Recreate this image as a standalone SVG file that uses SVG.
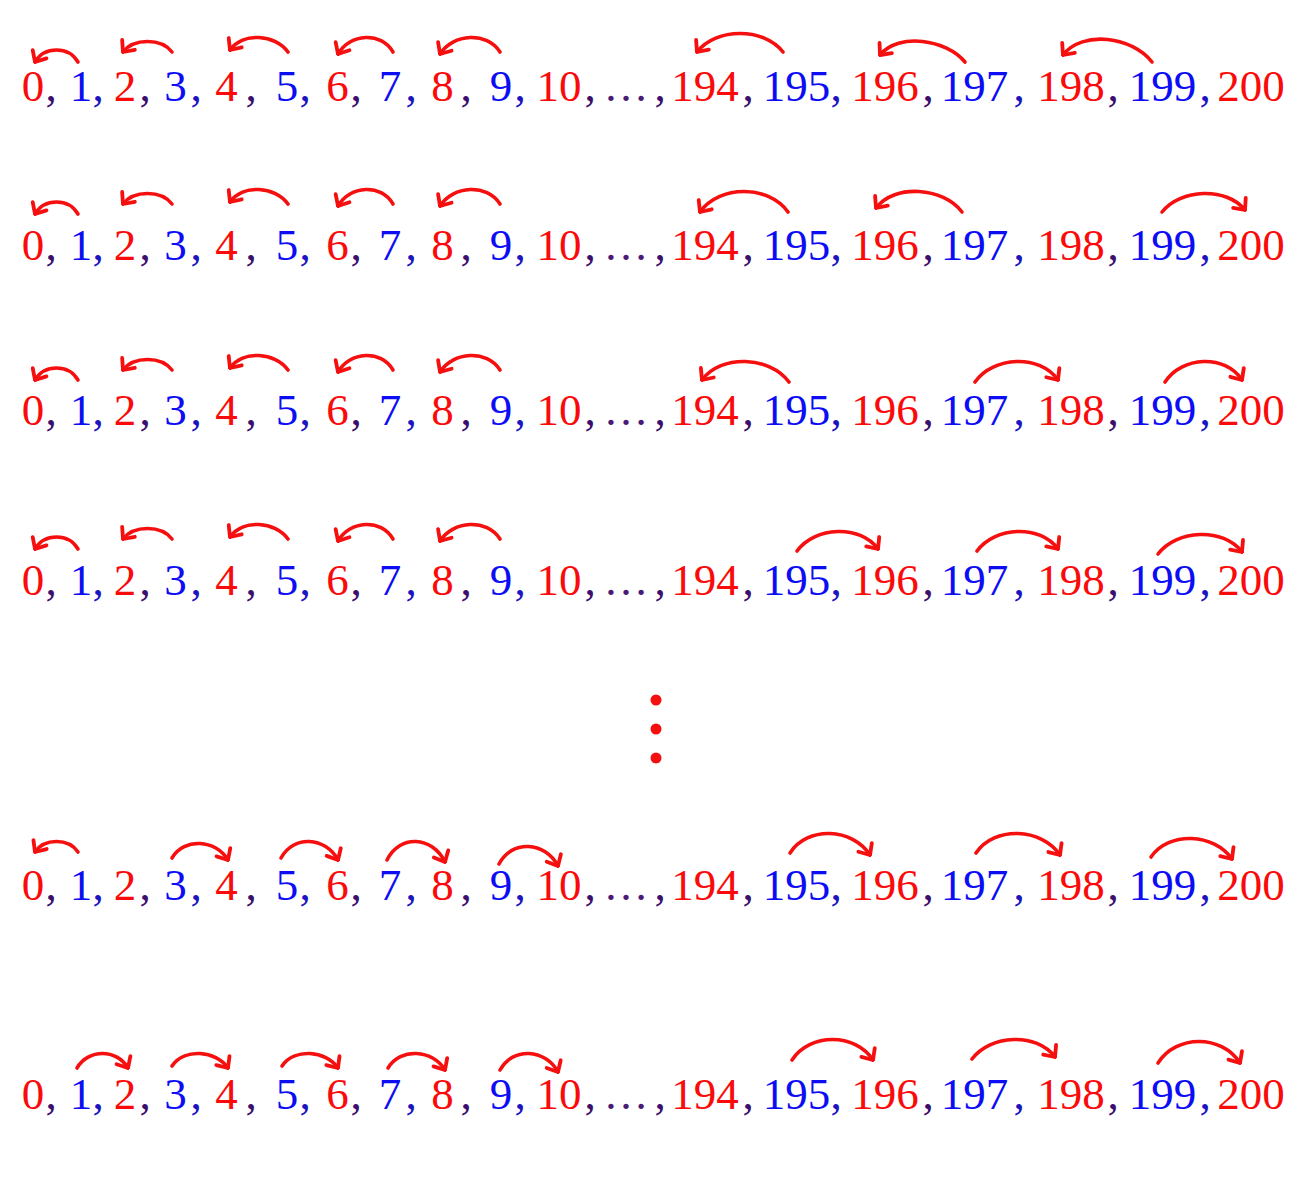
<svg xmlns="http://www.w3.org/2000/svg" width="1312" height="1199" viewBox="0 0 1312 1199">
<style>
text { font-family: "Liberation Serif", "Times New Roman", serif; font-size: 45px; text-anchor: middle; }
.r { fill: #fa0a0a; }
.b { fill: #0c0cf5; }
.cr { fill: #3c0f6e; }
.cb { fill: #1c14c0; }
.el { fill: #4a1a78; }
.arc { fill: none; stroke: #f50f0f; stroke-width: 3.6; stroke-linecap: round; marker-end: url(#ah); }
</style>
<defs>
<marker id="ah" viewBox="-13 -11 15 22" refX="0" refY="0" markerWidth="15" markerHeight="22" markerUnits="userSpaceOnUse" orient="auto">
<path d="M-9,-8 L0,0 L-9,8" fill="none" stroke="#f50f0f" stroke-width="3.8" stroke-linecap="round" stroke-linejoin="round"/>
</marker>
</defs>
<rect width="1312" height="1199" fill="#ffffff"/>

<g id="row1"><text y="101"><tspan class="r" x="33">0</tspan><tspan class="cr" x="51">,</tspan><tspan class="b" x="81">1</tspan><tspan class="cb" x="98">,</tspan><tspan class="r" x="125">2</tspan><tspan class="cr" x="145">,</tspan><tspan class="b" x="175.5">3</tspan><tspan class="cb" x="196">,</tspan><tspan class="r" x="226.5">4</tspan><tspan class="cr" x="251">,</tspan><tspan class="b" x="287">5</tspan><tspan class="cb" x="305">,</tspan><tspan class="r" x="337.5">6</tspan><tspan class="cr" x="356">,</tspan><tspan class="b" x="390">7</tspan><tspan class="cb" x="411">,</tspan><tspan class="r" x="442.5">8</tspan><tspan class="cr" x="466">,</tspan><tspan class="b" x="501">9</tspan><tspan class="cb" x="520">,</tspan><tspan class="r" x="559">10</tspan><tspan class="cr" x="590">,</tspan><tspan class="el" x="626">…</tspan><tspan class="cr" x="660">,</tspan><tspan class="r" x="705">194</tspan><tspan class="cr" x="748">,</tspan><tspan class="b" x="796.5">195</tspan><tspan class="cb" x="836">,</tspan><tspan class="r" x="885">196</tspan><tspan class="cr" x="928">,</tspan><tspan class="b" x="974.5">197</tspan><tspan class="cb" x="1019">,</tspan><tspan class="r" x="1071">198</tspan><tspan class="cr" x="1113">,</tspan><tspan class="b" x="1162.5">199</tspan><tspan class="cb" x="1205">,</tspan><tspan class="r" x="1251">200</tspan></text></g>

<g id="row2"><text y="260"><tspan class="r" x="33">0</tspan><tspan class="cr" x="51">,</tspan><tspan class="b" x="81">1</tspan><tspan class="cb" x="98">,</tspan><tspan class="r" x="125">2</tspan><tspan class="cr" x="145">,</tspan><tspan class="b" x="175.5">3</tspan><tspan class="cb" x="196">,</tspan><tspan class="r" x="226.5">4</tspan><tspan class="cr" x="251">,</tspan><tspan class="b" x="287">5</tspan><tspan class="cb" x="305">,</tspan><tspan class="r" x="337.5">6</tspan><tspan class="cr" x="356">,</tspan><tspan class="b" x="390">7</tspan><tspan class="cb" x="411">,</tspan><tspan class="r" x="442.5">8</tspan><tspan class="cr" x="466">,</tspan><tspan class="b" x="501">9</tspan><tspan class="cb" x="520">,</tspan><tspan class="r" x="559">10</tspan><tspan class="cr" x="590">,</tspan><tspan class="el" x="626">…</tspan><tspan class="cr" x="660">,</tspan><tspan class="r" x="705">194</tspan><tspan class="cr" x="748">,</tspan><tspan class="b" x="796.5">195</tspan><tspan class="cb" x="836">,</tspan><tspan class="r" x="885">196</tspan><tspan class="cr" x="928">,</tspan><tspan class="b" x="974.5">197</tspan><tspan class="cb" x="1019">,</tspan><tspan class="r" x="1071">198</tspan><tspan class="cr" x="1113">,</tspan><tspan class="b" x="1162.5">199</tspan><tspan class="cb" x="1205">,</tspan><tspan class="r" x="1251">200</tspan></text></g>

<g id="row3"><text y="425"><tspan class="r" x="33">0</tspan><tspan class="cr" x="51">,</tspan><tspan class="b" x="81">1</tspan><tspan class="cb" x="98">,</tspan><tspan class="r" x="125">2</tspan><tspan class="cr" x="145">,</tspan><tspan class="b" x="175.5">3</tspan><tspan class="cb" x="196">,</tspan><tspan class="r" x="226.5">4</tspan><tspan class="cr" x="251">,</tspan><tspan class="b" x="287">5</tspan><tspan class="cb" x="305">,</tspan><tspan class="r" x="337.5">6</tspan><tspan class="cr" x="356">,</tspan><tspan class="b" x="390">7</tspan><tspan class="cb" x="411">,</tspan><tspan class="r" x="442.5">8</tspan><tspan class="cr" x="466">,</tspan><tspan class="b" x="501">9</tspan><tspan class="cb" x="520">,</tspan><tspan class="r" x="559">10</tspan><tspan class="cr" x="590">,</tspan><tspan class="el" x="626">…</tspan><tspan class="cr" x="660">,</tspan><tspan class="r" x="705">194</tspan><tspan class="cr" x="748">,</tspan><tspan class="b" x="796.5">195</tspan><tspan class="cb" x="836">,</tspan><tspan class="r" x="885">196</tspan><tspan class="cr" x="928">,</tspan><tspan class="b" x="974.5">197</tspan><tspan class="cb" x="1019">,</tspan><tspan class="r" x="1071">198</tspan><tspan class="cr" x="1113">,</tspan><tspan class="b" x="1162.5">199</tspan><tspan class="cb" x="1205">,</tspan><tspan class="r" x="1251">200</tspan></text></g>

<g id="row4"><text y="595"><tspan class="r" x="33">0</tspan><tspan class="cr" x="51">,</tspan><tspan class="b" x="81">1</tspan><tspan class="cb" x="98">,</tspan><tspan class="r" x="125">2</tspan><tspan class="cr" x="145">,</tspan><tspan class="b" x="175.5">3</tspan><tspan class="cb" x="196">,</tspan><tspan class="r" x="226.5">4</tspan><tspan class="cr" x="251">,</tspan><tspan class="b" x="287">5</tspan><tspan class="cb" x="305">,</tspan><tspan class="r" x="337.5">6</tspan><tspan class="cr" x="356">,</tspan><tspan class="b" x="390">7</tspan><tspan class="cb" x="411">,</tspan><tspan class="r" x="442.5">8</tspan><tspan class="cr" x="466">,</tspan><tspan class="b" x="501">9</tspan><tspan class="cb" x="520">,</tspan><tspan class="r" x="559">10</tspan><tspan class="cr" x="590">,</tspan><tspan class="el" x="626">…</tspan><tspan class="cr" x="660">,</tspan><tspan class="r" x="705">194</tspan><tspan class="cr" x="748">,</tspan><tspan class="b" x="796.5">195</tspan><tspan class="cb" x="836">,</tspan><tspan class="r" x="885">196</tspan><tspan class="cr" x="928">,</tspan><tspan class="b" x="974.5">197</tspan><tspan class="cb" x="1019">,</tspan><tspan class="r" x="1071">198</tspan><tspan class="cr" x="1113">,</tspan><tspan class="b" x="1162.5">199</tspan><tspan class="cb" x="1205">,</tspan><tspan class="r" x="1251">200</tspan></text></g>

<g id="vdots" fill="#f50f0f"><circle cx="656" cy="700" r="5.5"/><circle cx="656" cy="729" r="5.5"/><circle cx="656" cy="758" r="5.5"/></g>

<g id="row5"><text y="900"><tspan class="r" x="33">0</tspan><tspan class="cr" x="51">,</tspan><tspan class="b" x="81">1</tspan><tspan class="cb" x="98">,</tspan><tspan class="r" x="125">2</tspan><tspan class="cr" x="145">,</tspan><tspan class="b" x="175.5">3</tspan><tspan class="cb" x="196">,</tspan><tspan class="r" x="226.5">4</tspan><tspan class="cr" x="251">,</tspan><tspan class="b" x="287">5</tspan><tspan class="cb" x="305">,</tspan><tspan class="r" x="337.5">6</tspan><tspan class="cr" x="356">,</tspan><tspan class="b" x="390">7</tspan><tspan class="cb" x="411">,</tspan><tspan class="r" x="442.5">8</tspan><tspan class="cr" x="466">,</tspan><tspan class="b" x="501">9</tspan><tspan class="cb" x="520">,</tspan><tspan class="r" x="559">10</tspan><tspan class="cr" x="590">,</tspan><tspan class="el" x="626">…</tspan><tspan class="cr" x="660">,</tspan><tspan class="r" x="705">194</tspan><tspan class="cr" x="748">,</tspan><tspan class="b" x="796.5">195</tspan><tspan class="cb" x="836">,</tspan><tspan class="r" x="885">196</tspan><tspan class="cr" x="928">,</tspan><tspan class="b" x="974.5">197</tspan><tspan class="cb" x="1019">,</tspan><tspan class="r" x="1071">198</tspan><tspan class="cr" x="1113">,</tspan><tspan class="b" x="1162.5">199</tspan><tspan class="cb" x="1205">,</tspan><tspan class="r" x="1251">200</tspan></text></g>

<g id="row6"><text y="1109"><tspan class="r" x="33">0</tspan><tspan class="cr" x="51">,</tspan><tspan class="b" x="81">1</tspan><tspan class="cb" x="98">,</tspan><tspan class="r" x="125">2</tspan><tspan class="cr" x="145">,</tspan><tspan class="b" x="175.5">3</tspan><tspan class="cb" x="196">,</tspan><tspan class="r" x="226.5">4</tspan><tspan class="cr" x="251">,</tspan><tspan class="b" x="287">5</tspan><tspan class="cb" x="305">,</tspan><tspan class="r" x="337.5">6</tspan><tspan class="cr" x="356">,</tspan><tspan class="b" x="390">7</tspan><tspan class="cb" x="411">,</tspan><tspan class="r" x="442.5">8</tspan><tspan class="cr" x="466">,</tspan><tspan class="b" x="501">9</tspan><tspan class="cb" x="520">,</tspan><tspan class="r" x="559">10</tspan><tspan class="cr" x="590">,</tspan><tspan class="el" x="626">…</tspan><tspan class="cr" x="660">,</tspan><tspan class="r" x="705">194</tspan><tspan class="cr" x="748">,</tspan><tspan class="b" x="796.5">195</tspan><tspan class="cb" x="836">,</tspan><tspan class="r" x="885">196</tspan><tspan class="cr" x="928">,</tspan><tspan class="b" x="974.5">197</tspan><tspan class="cb" x="1019">,</tspan><tspan class="r" x="1071">198</tspan><tspan class="cr" x="1113">,</tspan><tspan class="b" x="1162.5">199</tspan><tspan class="cb" x="1205">,</tspan><tspan class="r" x="1251">200</tspan></text></g>

<g id="connectors">
<g id="left-back-1">
<path class="arc" d="M78,62 C68.5,46 44.5,46 35,62"/>
<path class="arc" d="M172,52 C161.2,38 133.8,38 123,52"/>
<path class="arc" d="M288,52 C275.2,34 242.8,32 230,50"/>
<path class="arc" d="M393,52 C380.9,31.3 350.1,33.3 338,54"/>
<path class="arc" d="M500,52 C486.8,31.3 453.2,33.3 440,54"/>
</g>
<path class="arc" d="M783,52 C764.1,27.3 715.9,27.3 697,52"/>
<path class="arc" d="M965,62 C946.3,39.3 898.7,32.3 880,55"/>
<path class="arc" d="M1152,62 C1132.4,36.7 1082.6,29.7 1063,55"/>

<g transform="translate(0,152)">
<path class="arc" d="M78,62 C68.5,46 44.5,46 35,62"/>
<path class="arc" d="M172,52 C161.2,38 133.8,38 123,52"/>
<path class="arc" d="M288,52 C275.2,34 242.8,32 230,50"/>
<path class="arc" d="M393,52 C380.9,31.3 350.1,33.3 338,54"/>
<path class="arc" d="M500,52 C486.8,31.3 453.2,33.3 440,54"/>
</g>
<path class="arc" d="M788,212 C768.6,184.7 719.4,184.7 700,212"/>
<path class="arc" d="M962,212 C943.1,187.3 894.9,183.3 876,208"/>
<path class="arc" d="M1162,212 C1180.3,188.7 1226.7,186.7 1245,210"/>

<g transform="translate(0,318)">
<path class="arc" d="M78,62 C68.5,46 44.5,46 35,62"/>
<path class="arc" d="M172,52 C161.2,38 133.8,38 123,52"/>
<path class="arc" d="M288,52 C275.2,34 242.8,32 230,50"/>
<path class="arc" d="M393,52 C380.9,31.3 350.1,33.3 338,54"/>
<path class="arc" d="M500,52 C486.8,31.3 453.2,33.3 440,54"/>
</g>
<path class="arc" d="M789,382 C769.9,356 721.1,354 702,380"/>
<path class="arc" d="M975,382 C993.3,356 1039.7,354 1058,380"/>
<path class="arc" d="M1165,382 C1181.9,356 1225.1,354 1242,380"/>

<g transform="translate(0,487)">
<path class="arc" d="M78,62 C68.5,46 44.5,46 35,62"/>
<path class="arc" d="M172,52 C161.2,38 133.8,38 123,52"/>
<path class="arc" d="M288,52 C275.2,34 242.8,32 230,50"/>
<path class="arc" d="M393,52 C380.9,31.3 350.1,33.3 338,54"/>
<path class="arc" d="M500,52 C486.8,31.3 453.2,33.3 440,54"/>
</g>
<path class="arc" d="M797,551 C814.8,526.3 860.2,524.3 878,549"/>
<path class="arc" d="M977,551 C994.8,526.3 1040.2,524.3 1058,549"/>
<path class="arc" d="M1158,554 C1176.5,529.3 1223.5,527.3 1242,552"/>

<path class="arc" d="M78,852 C68.5,838 44.5,838 35,852"/>
<path class="arc" d="M172,858 C184.3,837.3 215.7,839.3 228,860"/>
<path class="arc" d="M281,858 C293.5,834.7 325.5,836.7 338,860"/>
<path class="arc" d="M387,860 C399.8,834 432.2,836 445,862"/>
<path class="arc" d="M499,864 C512,839.3 545,841.3 558,866"/>
<path class="arc" d="M790,853 C807.6,825.7 852.4,827.7 870,855"/>
<path class="arc" d="M976,853 C994.5,825.7 1041.5,827.7 1060,855"/>
<path class="arc" d="M1151,857 C1168.8,831 1214.2,833 1232,859"/>

<path class="arc" d="M77,1068 C88.2,1048.7 116.8,1048.7 128,1068"/>
<path class="arc" d="M172,1066 C184.3,1048 215.7,1050 228,1068"/>
<path class="arc" d="M282,1066 C294.3,1048 325.7,1050 338,1068"/>
<path class="arc" d="M388,1068 C400.5,1047.3 432.5,1049.3 445,1070"/>
<path class="arc" d="M500,1070 C512.8,1046.7 545.2,1048.7 558,1072"/>
<path class="arc" d="M792,1060 C809.8,1032.7 855.2,1032.7 873,1060"/>
<path class="arc" d="M972,1059 C990.3,1034.3 1036.7,1032.3 1055,1057"/>
<path class="arc" d="M1158,1063 C1176,1034.3 1222,1034.3 1240,1063"/>
</g>
</svg>
